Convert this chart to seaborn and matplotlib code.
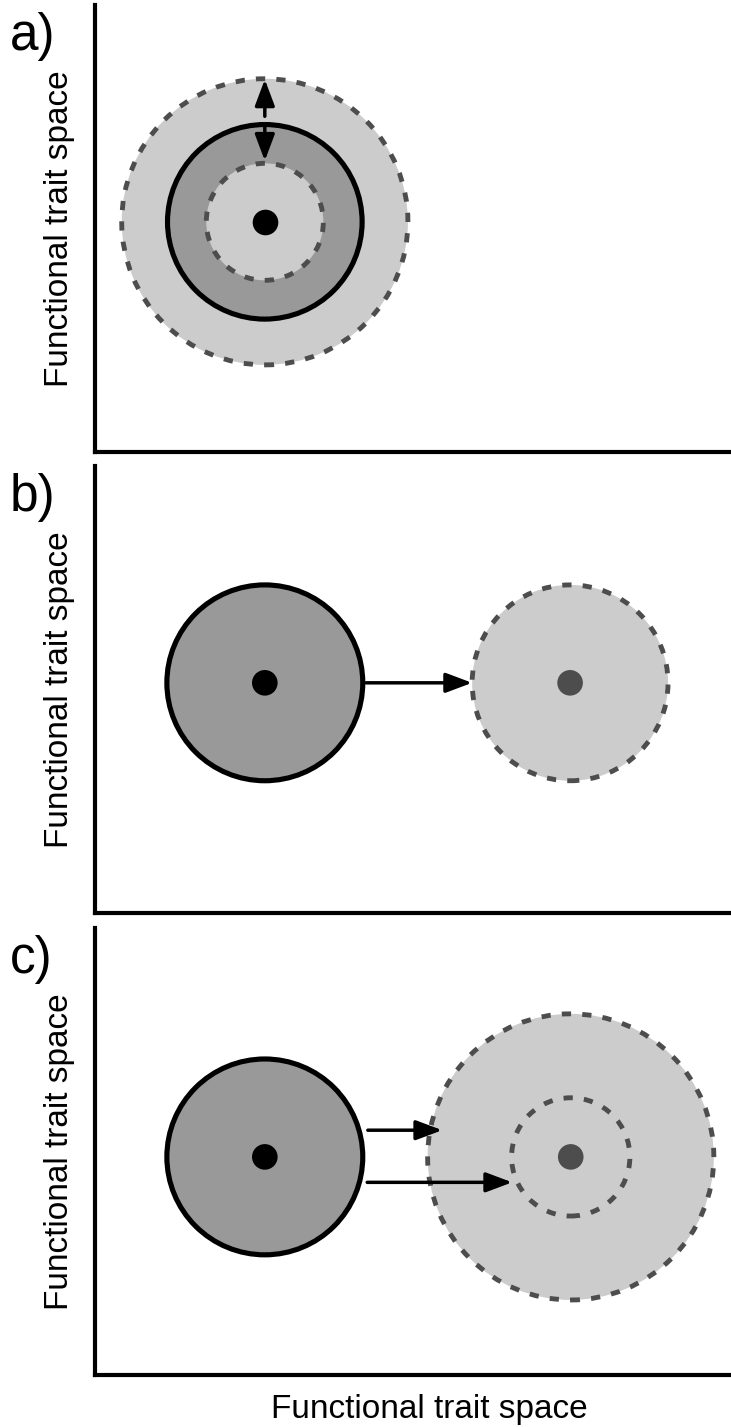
import matplotlib
matplotlib.use("Agg")
import matplotlib.pyplot as plt
from matplotlib.patches import Circle
import pandas as pd
import seaborn as sns

# ---------------- data (functional trait space units) ----------------
panel_ids = ["a", "b", "c"]
panel_labels = ["a)", "b)", "c)"]
axis_label = "Functional trait space"

# niche circles
circle_panel = ["a", "a", "a", "b", "b", "c", "c", "c"]
circle_x = [2.67, 2.67, 2.67, 2.67, 7.47, 2.67, 7.48, 7.48]
circle_y = [3.62, 3.62, 3.62, 3.62, 3.62, 3.43, 3.43, 3.43]
circle_r = [2.25, 1.53, 0.92, 1.54, 1.54, 1.54, 2.25, 0.93]
circle_state = ["future", "current", "future", "current", "future",
                "current", "future", "future"]

# niche centroids
centroid_panel = ["a", "b", "b", "c", "c"]
centroid_x = [2.67, 2.67, 7.47, 2.67, 7.48]
centroid_y = [3.62, 3.62, 3.62, 3.43, 3.43]
centroid_state = ["current", "current", "future", "current", "future"]

# arrows (start -> end)
arrow_panel = ["a", "a", "b", "c", "c"]
arrow_x0 = [2.67, 2.67, 4.26, 4.29, 4.28]
arrow_y0 = [5.28, 5.13, 3.62, 3.85, 3.03]
arrow_x1 = [2.67, 2.67, 5.93, 5.46, 6.56]
arrow_y1 = [5.86, 4.58, 3.62, 3.85, 3.03]

x_max = 10.0
y_max = 7.03

# ---------------- styling ----------------
sns.set_theme(style="white")
plt.rcParams["font.family"] = ["Liberation Sans", "DejaVu Sans"]

circle_style = {
    "current": dict(facecolor="#999999", edgecolor="black", linewidth=3.7,
                    linestyle="-"),
    "future": dict(facecolor="#cccccc", edgecolor="#4d4d4d", linewidth=3.5,
                   linestyle=(0, (1.9, 2.3))),
}
centroid_palette = {"current": "black", "future": "#4d4d4d"}

circles = pd.DataFrame(dict(panel=circle_panel, x=circle_x, y=circle_y,
                            r=circle_r, state=circle_state))
centroids = pd.DataFrame(dict(panel=centroid_panel, x=centroid_x,
                              y=centroid_y, state=centroid_state))
arrows = pd.DataFrame(dict(panel=arrow_panel, x0=arrow_x0, y0=arrow_y0,
                           x1=arrow_x1, y1=arrow_y1))

W, H = 731, 1427
fig = plt.figure(figsize=(W / 100, H / 100), dpi=100)

ax_left_px, ax_w_px, ax_h_px = 95, 636, 447
ax_bottom_px = [452, 913, 1375]

for pid, plabel, bpx in zip(panel_ids, panel_labels, ax_bottom_px):
    ax = fig.add_axes([ax_left_px / W, (H - bpx) / H, ax_w_px / W, ax_h_px / H])
    ax.set_xlim(0, x_max)
    ax.set_ylim(0, y_max)

    for _, c in circles[circles.panel == pid].iterrows():
        ax.add_patch(Circle((c.x, c.y), c.r, zorder=2, **circle_style[c.state]))

    sub = centroids[centroids.panel == pid]
    sns.scatterplot(data=sub, x="x", y="y", hue="state",
                    palette=centroid_palette, s=340, linewidth=0,
                    legend=False, ax=ax, zorder=4)

    for _, a in arrows[arrows.panel == pid].iterrows():
        ax.annotate("", xy=(a.x1, a.y1), xytext=(a.x0, a.y0),
                    arrowprops=dict(arrowstyle="-|>,head_length=0.8,head_width=0.3",
                                    color="black", lw=2.5, shrinkA=0, shrinkB=0,
                                    mutation_scale=20),
                    zorder=5)

    ax.set_xticks([])
    ax.set_yticks([])
    ax.set_xlabel("")
    ax.set_ylabel(axis_label, fontsize=24, color="black")
    ax.yaxis.set_label_coords(-0.0315, 0.5)
    for side in ["top", "right"]:
        ax.spines[side].set_visible(False)
    for side in ["left", "bottom"]:
        ax.spines[side].set_color("black")
        ax.spines[side].set_linewidth(3.0)
        ax.spines[side].set_capstyle("projecting")

    top_px = bpx - ax_h_px
    fig.text(10 / W, 1 - (top_px + 7) / H, plabel, fontsize=37,
             ha="left", va="top", color="black")

fig.text(429 / W, 1 - 1418 / H, axis_label, fontsize=24, ha="center",
         va="baseline", color="black")

fig.savefig("out.png", dpi=100)
